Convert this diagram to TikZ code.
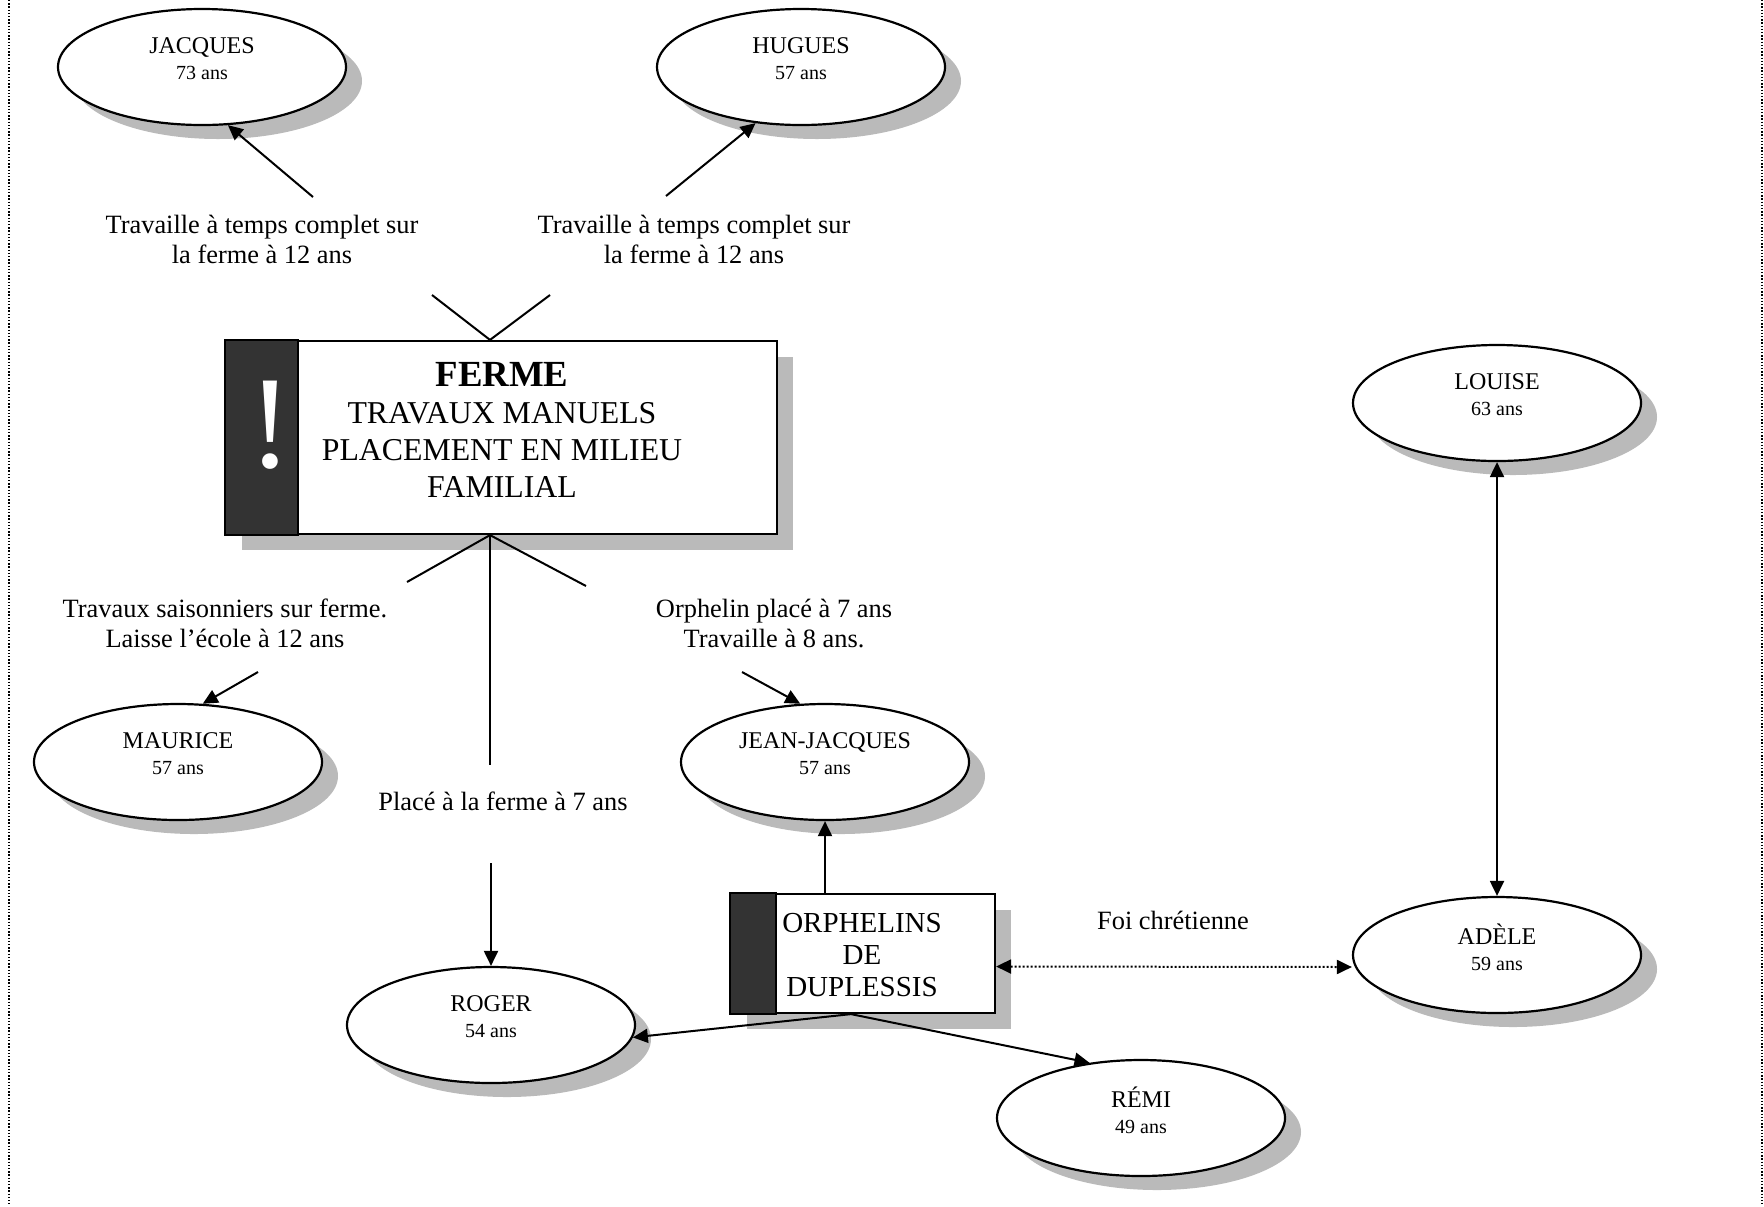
\documentclass[tikz,border=0pt]{standalone}
\usepackage{fontspec}
\setmainfont{Liberation Serif}
\usetikzlibrary{shapes.geometric,shadows,arrows.meta}

\newcommand{\agelbl}[1]{{\fontsize{10}{13}\selectfont #1 ans}}

\begin{document}
\begin{tikzpicture}[x=0.5pt,y=-0.5pt,
    person/.style={ellipse,draw,line width=1.1pt,fill=white,minimum width=144pt,minimum height=58pt,
      inner sep=0pt,align=center,font=\fontsize{12}{13}\selectfont,text depth=8pt,
      drop shadow={shadow xshift=8pt,shadow yshift=-7pt,fill=black!27,opacity=1}},
    infobox/.style={rectangle,draw,line width=1.1pt,fill=white,inner sep=0pt,
      drop shadow={shadow xshift=8pt,shadow yshift=-8pt,fill=black!27,opacity=1}},
    strip/.style={fill=black!80,draw=black,line width=1.1pt},
    lbl/.style={align=center,font=\fontsize{13.2}{15}\selectfont},
    link/.style={line width=1pt},
    arr/.style={line width=1pt,-{Triangle[length=7.5pt,width=7pt]}},
    dblarr/.style={line width=1pt,{Triangle[length=7.5pt,width=7pt]}-{Triangle[length=7.5pt,width=7pt]}},
    dotarr/.style={dblarr,dash pattern=on 1pt off 1pt},
    frame/.style={line width=0.8pt,dash pattern=on 0.7pt off 0.9pt}]
    \useasboundingbox (0,0) rectangle (1764,1206);
    % page frame
    \draw[frame] (9,0) -- (9,1204);
    \draw[frame] (1762,0) -- (1762,1204);

    % people
    \node[person] (jacques) at (202,67) {JACQUES\\\agelbl{73}};
    \node[person] (hugues) at (801,67) {HUGUES\\\agelbl{57}};
    \node[person] (louise) at (1497,403) {LOUISE\\\agelbl{63}};
    \node[person] (adele) at (1497,955) {ADÈLE\\\agelbl{59}};
    \node[person] (maurice) at (178,762) {MAURICE\\\agelbl{57}};
    \node[person] (jeanjacques) at (825,762) {JEAN-JACQUES\\\agelbl{57}};
    \node[person] (roger) at (491,1025) {ROGER\\\agelbl{54}};
    \node[person] (remi) at (1141,1118) {RÉMI\\\agelbl{49}};

    % boxes
    \node[infobox,minimum width=275.5pt,minimum height=96.5pt] (ferme) at (501.5,437.5) {};
    \filldraw[strip] (ferme.north west) rectangle ([xshift=36.5pt]ferme.south west);
    \node[text=white,font=\fontsize{66}{66}\selectfont] (bang) at (270,425) {!};
    \node[align=center,font=\fontsize{15.9}{18.5}\selectfont] (fermetxt) at (502,430)
      {{\fontsize{18.4}{19}\selectfont\bfseries FERME}\\TRAVAUX MANUELS\\PLACEMENT EN MILIEU\\FAMILIAL};

    \node[infobox,minimum width=132pt,minimum height=59.5pt] (orph) at (863,953.5) {};
    \filldraw[strip] (orph.north west) rectangle ([xshift=23pt]orph.south west);
    \node[align=center,font=\fontsize{14.5}{16}\selectfont] (orphtxt) at (862,955) {ORPHELINS\\DE\\DUPLESSIS};

    % labels
    \node[lbl] (lblA) at (262,239) {Travaille à temps complet sur\\la ferme à 12 ans};
    \node[lbl] (lblB) at (694,239) {Travaille à temps complet sur\\la ferme à 12 ans};
    \node[lbl] (lblC) at (225,623) {Travaux saisonniers sur ferme.\\Laisse l’école à 12 ans};
    \node[lbl] (lblD) at (774,623) {Orphelin placé à 7 ans\\Travaille à 8 ans.};
    \node[lbl] (lblE) at (503,801) {Placé à la ferme à 7 ans};
    \node[lbl] (lblF) at (1173,920) {Foi chrétienne};

    % free ends
    \coordinate (a1) at (313,197);
    \coordinate (b1) at (666,196);
    \coordinate (ftl) at (432,295);
    \coordinate (ftr) at (550,295);
    \coordinate (fbl) at (407,582);
    \coordinate (fbr) at (586,586);
    \coordinate (fdown) at (490,765);
    \coordinate (rup) at (491,863);
    \coordinate (c1) at (258,672);
    \coordinate (d1) at (742,672);

    % connectors
    \draw[arr] (a1) -- (jacques.-66);
    \draw[arr] (b1) -- (hugues.-129);
    \draw[link] (ftl) -- ([xshift=-5.75pt]ferme.north) -- (ftr);
    \draw[link] (fbl) -- ([xshift=-5.75pt]ferme.south) -- (fbr);
    \draw[link] ([xshift=-5.75pt]ferme.south) -- (fdown);
    \draw[arr] (rup) -- (roger.north);
    \draw[arr] (c1) -- (maurice.67);
    \draw[arr] (d1) -- (jeanjacques.113);
    \draw[arr] (orph.north -| jeanjacques.south) -- (jeanjacques.south);
    \draw[arr] ([xshift=-6pt]orph.south) -- (roger.-5);
    \draw[arr] ([xshift=-6pt]orph.south) -- (remi.133);
    \draw[dotarr] ([yshift=-6.5pt]orph.east) -- ([yshift=-6pt]adele.west);
    \draw[dblarr] (louise.south) -- (adele.north);
\end{tikzpicture}
\end{document}
